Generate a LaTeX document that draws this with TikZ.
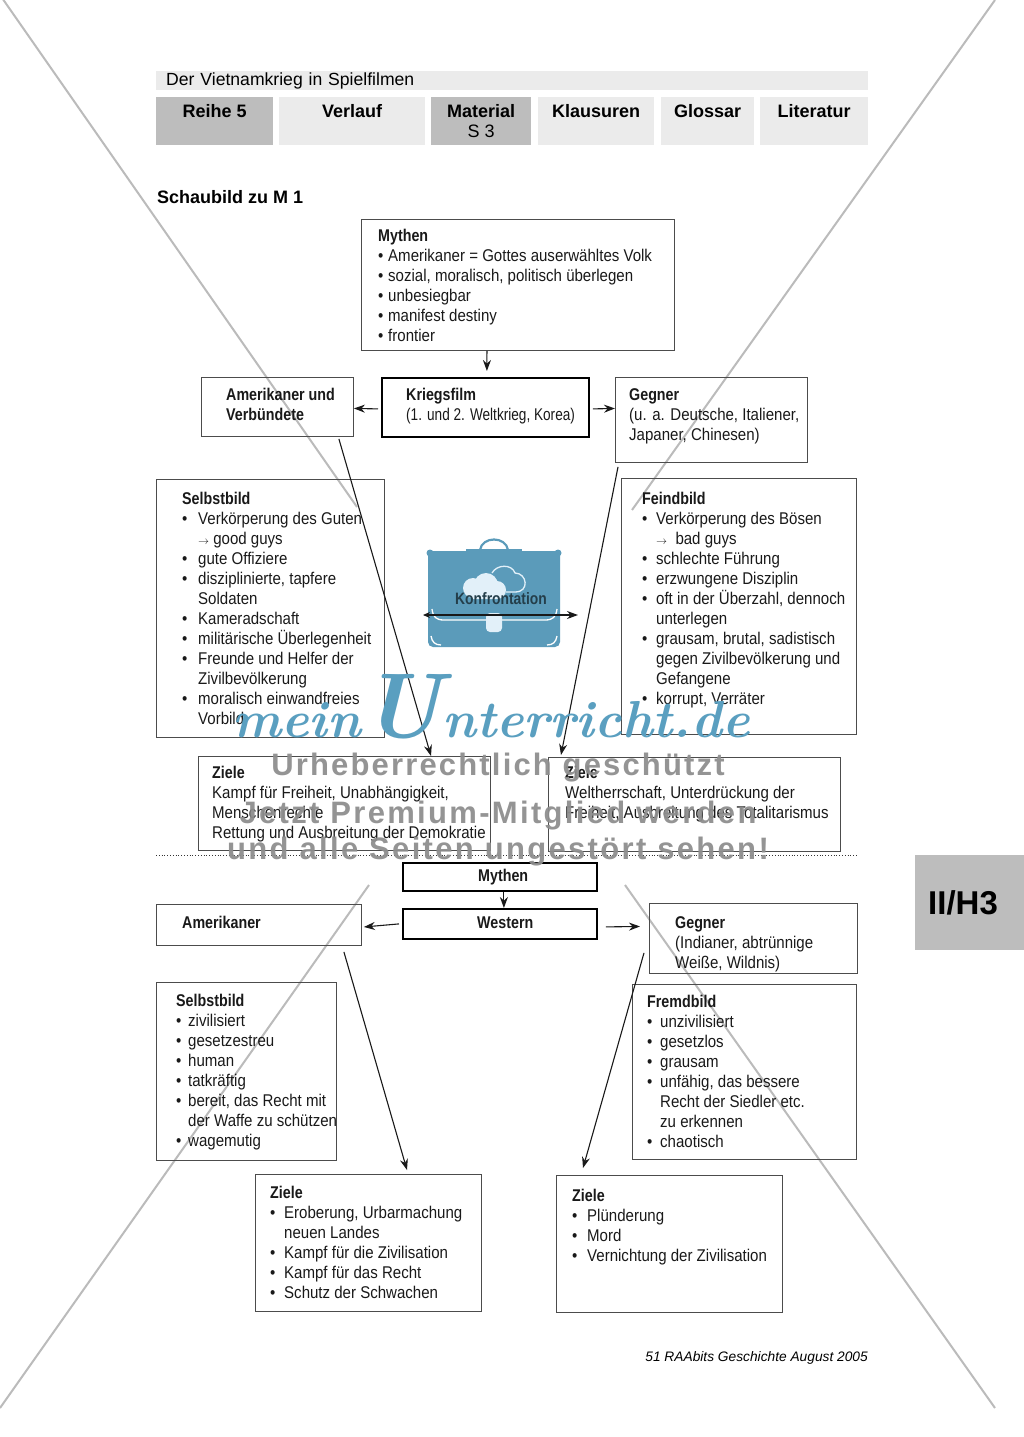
\documentclass[tikz,border=0pt]{standalone}
\usepackage{fontspec}
\usepackage{xcolor}
\usetikzlibrary{arrows.meta}
\setmainfont[FakeStretch=0.885,BoldFeatures={FakeStretch=0.84}]{Liberation Sans}
\newfontfamily\headfont{Liberation Sans}
\definecolor{tabdarkgray}{HTML}{BDBDBD}
\definecolor{tablightgray}{HTML}{EBEBEB}
\definecolor{cutline}{HTML}{BBBBBB}
\definecolor{casecol}{HTML}{5B9BBA}
\definecolor{cloudcol}{HTML}{E2F0F9}
\definecolor{markgray}{HTML}{8E8E8E}
\definecolor{markblue}{HTML}{5A9FC0}
\newcommand{\hd}[1]{\strut\textbf{#1}}
\newcommand{\itm}[1]{\makebox[#1][l]{\textbullet}}
\newcommand{\ind}[1]{\hspace*{#1}}
\tikzset{
  plainbox/.style={draw=black!70,line width=0.9pt,anchor=north west,inner sep=0pt},
  thickbox/.style={draw=black,line width=1.8pt,anchor=north west,inner sep=0pt},
  bodytext/.style={anchor=north west,inner sep=0pt,align=left,text=black!90,font=\fontsize{17}{20}\selectfont},
  tabbox/.style={anchor=north west,inner sep=0pt,align=center,minimum height=48pt,font=\headfont\fontsize{18}{20}\selectfont},
  arr/.style={-{Stealth[length=11pt,width=8pt]},line width=1.1pt,black!90},
  marktext/.style={text=markgray,font=\headfont\bfseries\fontsize{31}{31}\selectfont,inner sep=0pt,opacity=0.95}
}
\begin{document}
\begin{tikzpicture}[x=1pt,y=-1pt]
    \useasboundingbox (0,0) rectangle (1024,1437);
    % big crossed lines
    \coordinate (cuta) at (0,-5);
    \coordinate (cutb) at (357,507);
    \coordinate (cutc) at (995,0);
    \coordinate (cutd) at (632,510);
    \coordinate (cute) at (369,885);
    \coordinate (cutf) at (0,1408);
    \coordinate (cutg) at (625,885);
    \coordinate (cuth) at (995,1408);
    \draw [cutline,line width=2pt] (cuta) -- (cutb);
    \draw [cutline,line width=2pt] (cutc) -- (cutd);
    \draw [cutline,line width=2pt] (cute) -- (cutf);
    \draw [cutline,line width=2pt] (cutg) -- (cuth);

    % page head
    \node (titlebar) [fill=tablightgray,anchor=north west,inner ysep=0pt,inner xsep=10pt,text width=692pt,minimum height=19pt,align=left,font=\headfont\fontsize{17.6}{19}\selectfont] at (156,71) {\raisebox{-1.5pt}{Der Vietnamkrieg in Spielfilmen}};
    \node (tabreihe) [tabbox,fill=tabdarkgray,minimum width=117pt] at (156,97) {\textbf{Reihe 5}\\\phantom{S 3}};
    \node (tabverlauf) [tabbox,fill=tablightgray,minimum width=146pt] at (279,97) {\textbf{Verlauf}\\\phantom{S 3}};
    \node (tabmaterial) [tabbox,fill=tabdarkgray,minimum width=100pt] at (431,97) {\textbf{Material}\\S 3};
    \node (tabklausuren) [tabbox,fill=tablightgray,minimum width=116pt] at (538,97) {\textbf{Klausuren}\\\phantom{S 3}};
    \node (tabglossar) [tabbox,fill=tablightgray,minimum width=93pt] at (661,97) {\textbf{Glossar}\\\phantom{S 3}};
    \node (tabliteratur) [tabbox,fill=tablightgray,minimum width=108pt] at (760,97) {\textbf{Literatur}\\\phantom{S 3}};
    \node (schaubild) [anchor=west,inner sep=0pt,font=\headfont\bfseries\fontsize{18}{20}\selectfont] at (157,197) {Schaubild zu M 1};
    \node (sidetab) [fill=tabdarkgray,anchor=north west,minimum width=109pt,minimum height=95pt,inner sep=0pt] at (915,855) {};
    \node (sidetext) [inner sep=0pt,font=\headfont\bfseries\fontsize{33}{33}\selectfont] at (963,903) {II/H3};
    \node (footer) [anchor=base east,inner sep=0pt,font=\headfont\itshape\fontsize{13.75}{16}\selectfont] at (868,1361) {51 RAAbits Geschichte August 2005};

    % upper part: boxes
    \node (mythenbox) [plainbox,minimum width=313pt,minimum height=131pt] at (361,219) {};
    \node (amerbox) [plainbox,minimum width=152pt,minimum height=59pt] at (201,377) {};
    \node (kriegsbox) [thickbox,minimum width=207pt,minimum height=59pt] at (381,377) {};
    \node (gegnerbox) [plainbox,minimum width=192pt,minimum height=85pt] at (615,377) {};
    \node (selbstbox) [plainbox,minimum width=228pt,minimum height=258pt] at (156,479) {};
    \node (feindbox) [plainbox,minimum width=235pt,minimum height=256pt] at (621,478) {};
    \node (zielebox) [plainbox,minimum width=292pt,minimum height=94pt] at (198,756) {};
    \node (zielgbox) [plainbox,minimum width=292pt,minimum height=94pt] at (548,757) {};

    % upper part: texts
    \node (mythentext) [bodytext] at (378,227) {\hd{Mythen}\\
      \itm{10pt}Amerikaner = Gottes auserwähltes Volk\\
      \itm{10pt}sozial, moralisch, politisch überlegen\\
      \itm{10pt}unbesiegbar\\
      \itm{10pt}manifest destiny\\
      \itm{10pt}frontier};
    \node (amertext) [bodytext] at (226,386) {\hd{Amerikaner und}\\\textbf{Verbündete}};
    \node (kriegstext) [bodytext] at (406,386) {\hd{Kriegsfilm}\\\scalebox{0.905}[1]{(1. und 2. Weltkrieg, Korea)}};
    \node (gegnertext) [bodytext] at (629,386) {\hd{Gegner}\\(u. a. Deutsche, Italiener,\\Japaner, Chinesen)};
    \node (selbsttext) [bodytext] at (182,490) {\hd{Selbstbild}\\
      \itm{16pt}Verkörperung des Guten\\
      \ind{16pt}{\fontsize{11}{20}\selectfont$\rightarrow$} good guys\\
      \itm{16pt}gute Offiziere\\
      \itm{16pt}disziplinierte, tapfere\\
      \ind{16pt}Soldaten\\
      \itm{16pt}Kameradschaft\\
      \itm{16pt}militärische Überlegenheit\\
      \itm{16pt}Freunde und Helfer der\\
      \ind{16pt}Zivilbevölkerung\\
      \itm{16pt}moralisch einwandfreies\\
      \ind{16pt}Vorbild};
    \node (feindtext) [bodytext] at (642,490) {\hd{Feindbild}\\
      \itm{14pt}Verkörperung des Bösen\\
      \ind{14pt}{\fontsize{11}{20}\selectfont$\rightarrow$}\ \ bad guys\\
      \itm{14pt}schlechte Führung\\
      \itm{14pt}erzwungene Disziplin\\
      \itm{14pt}oft in der Überzahl, dennoch\\
      \ind{14pt}unterlegen\\
      \itm{14pt}grausam, brutal, sadistisch\\
      \ind{14pt}gegen Zivilbevölkerung und\\
      \ind{14pt}Gefangene\\
      \itm{14pt}korrupt, Verräter};
    \node (zieletext) [bodytext] at (212,764) {\hd{Ziele}\\Kampf für Freiheit, Unabhängigkeit,\\Menschenrechte\\Rettung und Ausbreitung der Demokratie};
    \node (zielgtext) [bodytext] at (565,764) {\hd{Ziele}\\Weltherrschaft, Unterdrückung der\\Freiheit, Ausbreitung des Totalitarismus};

    % briefcase
    \fill [casecol,rounded corners=5pt] (428,551) -- (560,551) -- (560,647) -- (428,647) -- cycle;
    \fill [casecol] (430,553) circle (3.5pt) (558,553) circle (3.5pt);
    \fill [casecol] (466,549) rectangle (522,553);
    \draw [casecol,line width=2.2pt] (480,550) .. controls (482,536) and (506,536) .. (508,550);
    \draw [cloudcol,line width=1.3pt] (492,573) .. controls (497,564) and (512,564) .. (515,573) .. controls (527,573) and (530,592) .. (515,592) -- (506,592);
    \fill [cloudcol] (473,588) circle (10pt) (486,585) circle (12pt) (497,590) circle (9pt) (473,590) rectangle (497,599);
    \draw [white,line width=1.3pt] (432,609) .. controls (433,617) and (436,620) .. (444,620) -- (545,620) .. controls (553,620) and (556,617) .. (557,609);
    \fill [cloudcol,rounded corners=4pt] (486,613) rectangle (502,632);
    \draw [white,line width=1.3pt] (431,636) .. controls (432,642) and (435,645) .. (441,645);
    \draw [white,line width=1.3pt] (557,636) .. controls (556,642) and (553,645) .. (547,645);
    \node (konfront) [inner sep=0pt,text=black!50!casecol!80!black,font=\bfseries\fontsize{16.5}{20}\selectfont] at (501,599) {Konfrontation};

    % upper part: arrows
    \coordinate (konfl) at (423,615);
    \coordinate (konfr) at (578,615);
    \draw [arr,{Stealth[length=7pt,width=6pt]}-{Stealth[length=11pt,width=8pt]}] (konfl) -- (konfr);
    \draw [arr] ([xshift=-31pt]mythenbox.south) -- ([xshift=1.5pt,yshift=6pt]kriegsbox.north);
    \draw [arr] ([xshift=-3pt,yshift=-1.5pt]kriegsbox.west) -- ([yshift=-1.5pt]amerbox.east);
    \draw [arr] ([xshift=3pt,yshift=-1.5pt]kriegsbox.east) -- ([yshift=11.5pt]gegnerbox.west);
    \draw [arr] ([xshift=-15pt,yshift=-2pt]amerbox.south east) -- ([xshift=233pt]zielebox.north west);
    \draw [arr] ([xshift=3pt,yshift=-4pt]gegnerbox.south west) -- ([xshift=13pt,yshift=2pt]zielgbox.north west);

    % separator
    \coordinate (sepl) at (156,855);
    \coordinate (sepr) at (857,855);
    \draw [black!80,dotted,line width=0.8pt] (sepl) -- (sepr);

    % lower part: boxes
    \node (mythenwest) [thickbox,minimum width=194pt,minimum height=28pt] at (402,862) {};
    \node (westernbox) [thickbox,minimum width=194pt,minimum height=30pt] at (402,908) {};
    \node (amerwest) [plainbox,minimum width=205pt,minimum height=41pt] at (156,904) {};
    \node (gegnerwest) [plainbox,minimum width=208pt,minimum height=70pt] at (649,903) {};
    \node (selbstwest) [plainbox,minimum width=180pt,minimum height=178pt] at (156,982) {};
    \node (fremdwest) [plainbox,minimum width=224pt,minimum height=175pt] at (632,984) {};
    \node (zielewest) [plainbox,minimum width=226pt,minimum height=137pt] at (255,1174) {};
    \node (zielgwest) [plainbox,minimum width=226pt,minimum height=137pt] at (556,1175) {};

    % lower part: texts
    \node (mythenwtext) [bodytext] at (478,867) {\hd{Mythen}};
    \node (westerntext) [bodytext] at (477,914) {\hd{Western}};
    \node (amerwtext) [bodytext] at (182,914) {\hd{Amerikaner}};
    \node (gegnerwtext) [bodytext] at (675,914) {\hd{Gegner}\\(Indianer, abtrünnige\\Weiße, Wildnis)};
    \node (selbstwtext) [bodytext] at (176,992) {\hd{Selbstbild}\\
      \itm{12pt}zivilisiert\\
      \itm{12pt}gesetzestreu\\
      \itm{12pt}human\\
      \itm{12pt}tatkräftig\\
      \itm{12pt}bereit, das Recht mit\\
      \ind{12pt}der Waffe zu schützen\\
      \itm{12pt}wagemutig};
    \node (fremdwtext) [bodytext] at (647,993) {\hd{Fremdbild}\\
      \itm{13pt}unzivilisiert\\
      \itm{13pt}gesetzlos\\
      \itm{13pt}grausam\\
      \itm{13pt}unfähig, das bessere\\
      \ind{13pt}Recht der Siedler etc.\\
      \ind{13pt}zu erkennen\\
      \itm{13pt}chaotisch};
    \node (zielewtext) [bodytext] at (270,1184) {\hd{Ziele}\\
      \itm{14pt}Eroberung, Urbarmachung\\
      \ind{14pt}neuen Landes\\
      \itm{14pt}Kampf für die Zivilisation\\
      \itm{14pt}Kampf für das Recht\\
      \itm{14pt}Schutz der Schwachen};
    \node (zielgwtext) [bodytext] at (572,1187) {\hd{Ziele}\\
      \itm{15pt}Plünderung\\
      \itm{15pt}Mord\\
      \itm{15pt}Vernichtung der Zivilisation};

    % lower part: arrows
    \draw [arr] ([xshift=4pt]mythenwest.south) -- ([xshift=4pt]westernbox.north);
    \draw [arr] ([xshift=-3pt]westernbox.west) -- ([xshift=2pt,yshift=-2pt]amerwest.east);
    \draw [arr] ([xshift=8pt,yshift=-3pt]westernbox.east) -- ([xshift=-9pt,yshift=12pt]gegnerwest.west);
    \draw [arr] ([xshift=-18pt,yshift=-6pt]amerwest.south east) -- ([xshift=152pt,yshift=4pt]zielewest.north west);
    \draw [arr] ([xshift=-5pt,yshift=21pt]gegnerwest.south west) -- ([xshift=27pt,yshift=7pt]zielgwest.north west);

    % watermark
    \node (markscript) [anchor=base,inner sep=0pt,text=markblue,font=\fontfamily{lmr}\fontseries{bx}\fontshape{it}\selectfont\fontsize{52}{52}\selectfont] at (491,737) {mein{\fontsize{92}{92}\selectfont U}nterricht.de};
    \node (markone) [marktext] at (498,768) {\addfontfeature{LetterSpace=7}Urheberrechtlich geschützt};
    \node (marktwo) [marktext] at (498,816) {\addfontfeature{LetterSpace=7.5}Jetzt Premium-Mitglied werden};
    \node (markthree) [marktext] at (498,852) {\addfontfeature{LetterSpace=7.5}und alle Seiten ungestört sehen!};
\end{tikzpicture}
\end{document}
